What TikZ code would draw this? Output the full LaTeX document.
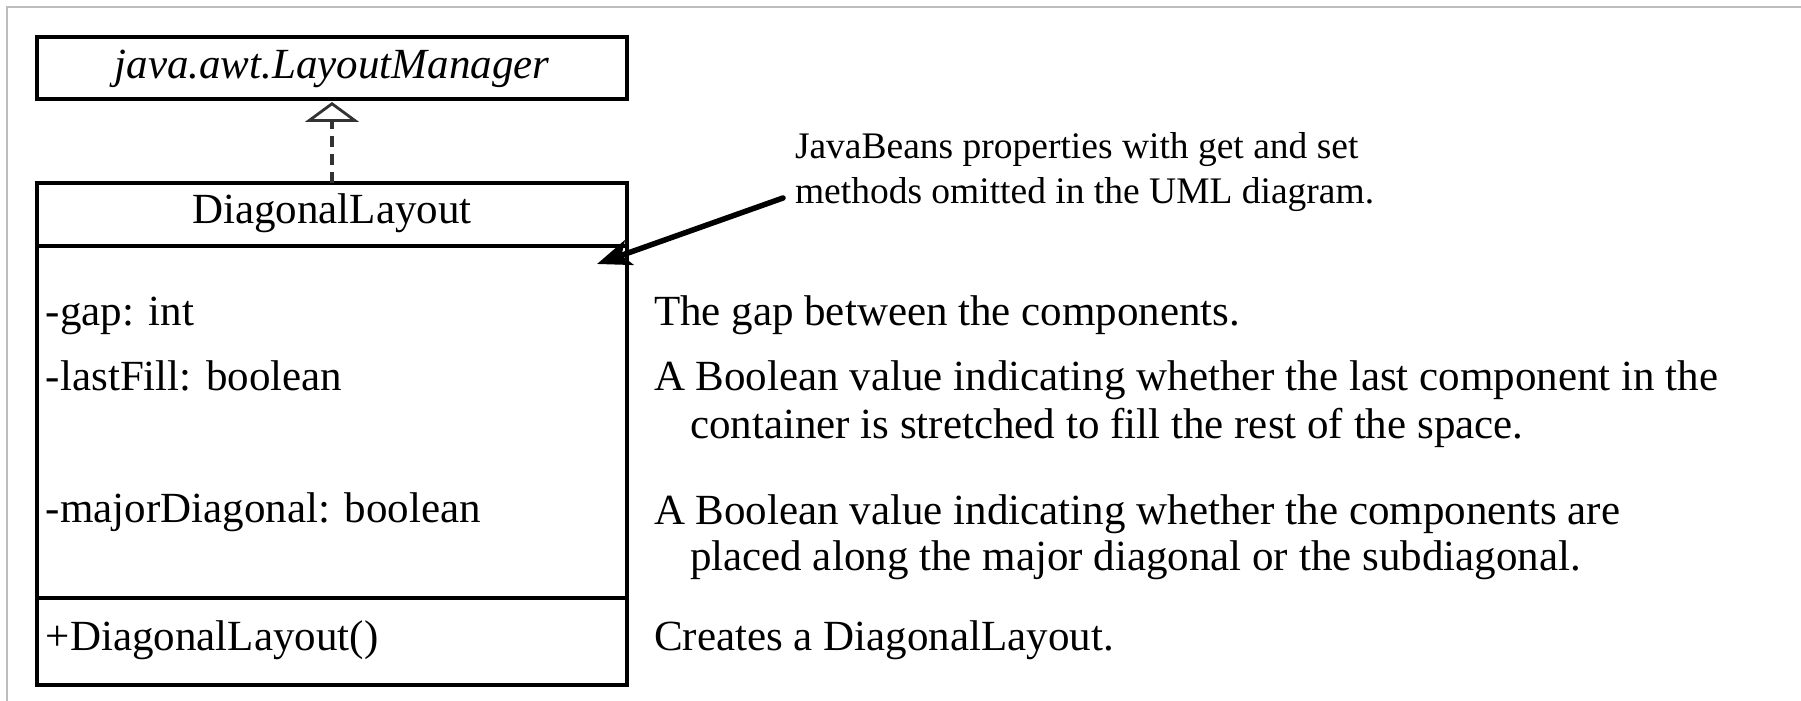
\documentclass[tikz,border=0pt]{standalone}
\usepackage{fontspec}
\setmainfont{Liberation Serif}
\usetikzlibrary{arrows.meta}
\definecolor{framegray}{HTML}{BDBDBD}
\definecolor{linkgray}{HTML}{333333}
\begin{document}
\begin{tikzpicture}[x=0.5pt,y=-0.5pt,
  umlbox/.style={draw=black, line width=1.75pt, rectangle, minimum width=295pt,
                 inner sep=0pt, outer sep=0pt},
  bodytext/.style={font=\fontsize{21.5pt}{25pt}\selectfont, inner sep=0pt, outer sep=0pt},
  notetext/.style={font=\fontsize{18.75pt}{22pt}\selectfont, inner sep=0pt, outer sep=0pt,
                   anchor=base west},
  realizes/.style={draw=linkgray, line width=2pt, dash pattern=on 5.5pt off 3.5pt,
                   -{Triangle[open, length=10pt, width=27pt, line width=1.4pt]},
                   shorten >=1.5pt},
  pointer/.style={draw=black, line width=2.75pt, line cap=round,
                  -{Stealth[length=17pt, width=13pt, inset=4pt]}}
]
\useasboundingbox (0,0) rectangle (1801,701);

% page frame
\draw[framegray, line width=1pt] (7,701) -- (7,7) -- (1801,7);

% interface box
\node[umlbox, minimum height=31pt] (iface) at (332,68) {};
\node[bodytext, anchor=base] (ifacename) at (332,79) {\itshape java.awt.LayoutManager};

% class box: name, attributes, operations
\node[umlbox, minimum height=31.5pt] (clsname) at (332,214.5) {};
\node[umlbox, minimum height=176pt] (clsattr) at (332,422) {};
\node[umlbox, minimum height=43.5pt] (clsops) at (332,641.5) {};
\node[bodytext, anchor=base] (clstitle) at (332,223) {DiagonalLayout};

\node[bodytext, anchor=base west] (agap) at (46,325) {-gap: int};
\node[bodytext, anchor=base west] (alast) at (46,390) {-lastFill: boolean};
\node[bodytext, anchor=base west] (amajor) at (46,522) {-majorDiagonal: boolean};
\node[bodytext, anchor=base west] (ctor) at (46,650) {+DiagonalLayout()};

% realization link
\draw[realizes] (clsname.north) -- (iface.south);

% descriptions
\node[bodytext, anchor=base west] (dgap) at (654,325) {The gap between the components.};
\node[bodytext, anchor=base west] (dlast1) at (654,390) {A Boolean value indicating whether the last component in the};
\node[bodytext, anchor=base west] (dlast2) at (690,438) {container is stretched to fill the rest of the space.};
\node[bodytext, anchor=base west] (dmajor1) at (654,524) {A Boolean value indicating whether the components are};
\node[bodytext, anchor=base west] (dmajor2) at (690,570) {placed along the major diagonal or the subdiagonal.};
\node[bodytext, anchor=base west] (dctor) at (654,650) {Creates a DiagonalLayout.};

% note about JavaBeans properties
\node[notetext] (note1) at (795,159) {JavaBeans properties with get and set};
\node[notetext] (note2) at (795,204) {methods omitted in the UML diagram.};
\coordinate (notestart) at (783,198);
\coordinate (notetip) at (597,264);
\draw[pointer] (notestart) -- (notetip);
\end{tikzpicture}
\end{document}
